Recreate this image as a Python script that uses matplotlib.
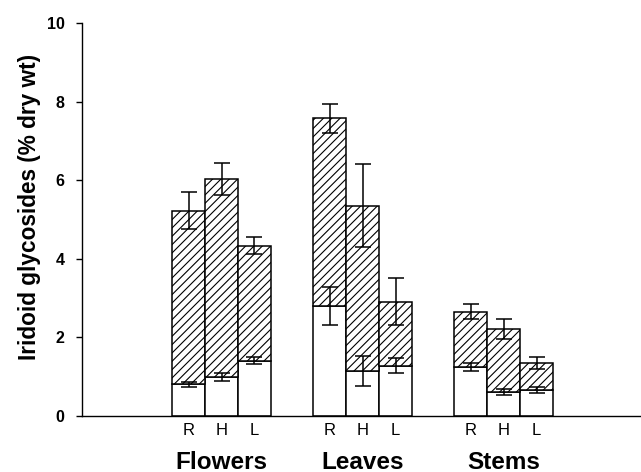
import matplotlib
matplotlib.use('Agg')
import numpy as np
import matplotlib.pyplot as plt

plt.rcParams['font.family'] = ['Liberation Sans', 'DejaVu Sans']
plt.rcParams['hatch.linewidth'] = 0.8

organs = ['Flowers', 'Leaves', 'Stems']
treatments = ['R', 'H', 'L']

# lower (open) part of each bar and its error
low = np.array([[0.81, 0.99, 1.41],
                [2.80, 1.15, 1.28],
                [1.24, 0.62, 0.67]])
low_err = np.array([[0.06, 0.10, 0.09],
                    [0.49, 0.38, 0.19],
                    [0.10, 0.08, 0.08]])

# total height (hatched top) and its error
total = np.array([[5.22, 6.03, 4.33],
                  [7.58, 5.35, 2.91],
                  [2.65, 2.21, 1.35]])
total_err = np.array([[0.47, 0.41, 0.22],
                      [0.37, 1.05, 0.60],
                      [0.19, 0.26, 0.16]])

w = 0.234
fig = plt.figure(figsize=(6.41, 4.72), dpi=100)
ax = fig.add_axes([0.128, 0.1186, 0.872, 0.8327])

for g in range(len(organs)):
    xs = g + (np.arange(3) - 1) * w
    ax.bar(xs, low[g], width=w, color='white', edgecolor='black', linewidth=1.1)
    ax.bar(xs, total[g] - low[g], bottom=low[g], width=w, color='white',
           edgecolor='black', hatch='////', linewidth=1.1)
    ax.errorbar(xs, low[g], yerr=low_err[g], fmt='none', ecolor='black',
                elinewidth=1.1, capsize=6, capthick=1.1)
    ax.errorbar(xs, total[g], yerr=total_err[g], fmt='none', ecolor='black',
                elinewidth=1.1, capsize=6, capthick=1.1)
    for x, t in zip(xs, treatments):
        ax.text(x, -0.38, t, ha='center', va='center', fontsize=12)
    ax.text(g, -1.36, organs[g], ha='center', va='baseline', fontsize=17.5,
            fontweight='bold')

ax.set_xlim(-0.989, 2.975)
ax.set_ylim(0, 10)
ax.set_yticks([0, 2, 4, 6, 8, 10])
ax.set_xticks([])
for lab in ax.get_yticklabels():
    lab.set_fontweight('bold')
ax.tick_params(axis='y', labelsize=11.5, length=4, width=1, pad=8.5)
ax.spines['top'].set_visible(False)
ax.spines['right'].set_visible(False)
ax.spines['left'].set_linewidth(1)
ax.spines['bottom'].set_linewidth(1)
ax.set_ylabel('Iridoid glycosides (% dry wt)', fontsize=16.3, fontweight='bold',
              labelpad=4)
ax.yaxis.label.set_y(0.532)

fig.savefig('out.png', dpi=100)
